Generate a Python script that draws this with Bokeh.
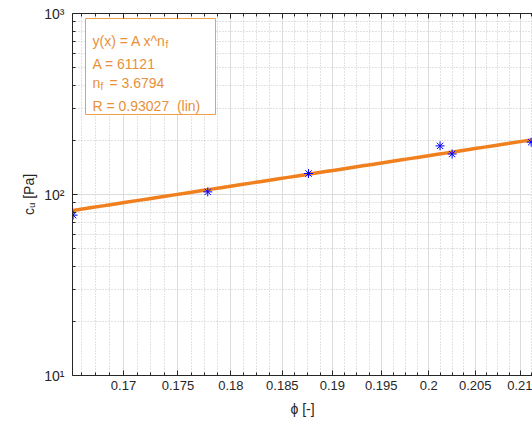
import numpy as np
from bokeh.plotting import figure
from bokeh.models import (Range1d, FixedTicker, CustomJSTickFormatter, LogAxis,
                          ColumnDataSource)
from bokeh.core.properties import value
from bokeh.embed import file_html
from bokeh.resources import INLINE

# ---- data ----
phi = [0.1655, 0.1778, 0.1876, 0.2012, 0.2025, 0.2112]
cu = [76.9, 103.4, 130.6, 185.6, 167.4, 194.5]

# fitted power law y = A x^n_f
A_fit = 61121
n_fit = 3.6794
R_fit = 0.93027

x_ticks = [0.17, 0.175, 0.18, 0.185, 0.19, 0.195, 0.2, 0.205, 0.21]
y_ticks = [10, 100, 1000]

# ---- layout ----
X0, X1 = 0.16545, 0.21135
Y0, Y1 = 10, 1000
FL, FT, FW, FH = 72, 13, 460, 362
W, H = 532, 425

FONT = "Liberation Sans"
DARK = "#262626"
ORANGE_LINE = "#F0801E"
ORANGE_TXT = "#E8903A"
ORANGE_BOX = "#F0A04B"


def xd(px):
    return X0 * (X1 / X0) ** ((px - FL) / FW)


def yd(py):
    return Y0 * (Y1 / Y0) ** (1 - (py - FT) / FH)


p = figure(frame_width=FW, frame_height=FH,
           x_axis_type="log", y_axis_type="log",
           x_range=Range1d(X0, X1), y_range=Range1d(Y0, Y1),
           output_backend="svg", toolbar_location=None,
           min_border_left=FL, min_border_right=0,
           min_border_top=FT, min_border_bottom=H - FT - FH)
p.outline_line_color = None
p.background_fill_color = "white"
p.border_fill_color = "white"

x_minor = [round(v, 5) for v in np.arange(0.165, 0.2125, 0.00125)
           if all(abs(v - t) > 1e-6 for t in x_ticks)]
y_minor = [m * d for d in (10, 100) for m in range(2, 10)]

xt = FixedTicker(ticks=x_ticks, minor_ticks=x_minor)
yt = FixedTicker(ticks=y_ticks, minor_ticks=y_minor)
p.xaxis.ticker = xt
p.yaxis.ticker = yt
p.xaxis.formatter = CustomJSTickFormatter(
    code="return parseFloat(tick.toFixed(4)).toString();")
p.yaxis.formatter = CustomJSTickFormatter(
    code="const s={0:'\u2070',1:'\u00b9',2:'\u00b2',3:'\u00b3'};"
         "return '10' + s[Math.round(Math.log10(tick))];")

for ax in (p.xaxis[0], p.yaxis[0]):
    ax.axis_line_color = DARK
    ax.major_tick_line_color = DARK
    ax.minor_tick_line_color = DARK
    ax.major_tick_in = 5
    ax.major_tick_out = 0
    ax.minor_tick_in = 3
    ax.minor_tick_out = 0
    ax.major_label_text_font = FONT
    ax.major_label_text_font_size = "13px"
    ax.major_label_text_color = DARK
    ax.axis_label_text_font = FONT
    ax.axis_label_text_font_size = "14px"
    ax.axis_label_text_font_style = "normal"
    ax.axis_label_text_color = DARK

p.yaxis.major_label_text_font_size = "14px"
p.xaxis.major_label_standoff = 5
p.xaxis.axis_label = "\u03d5 [-]"
p.xaxis.axis_label_standoff = 8
p.yaxis.major_label_standoff = 8
p.yaxis.axis_label = "c\u1d64 [Pa]"
p.yaxis.axis_label_standoff = 4

top = LogAxis(ticker=FixedTicker(ticks=x_ticks, minor_ticks=x_minor),
              formatter=CustomJSTickFormatter(code="return '';"),
              major_label_text_font_size="0px", major_label_standoff=0,
              axis_line_color=DARK, major_tick_line_color=DARK,
              minor_tick_line_color=DARK, major_tick_in=5, major_tick_out=0,
              minor_tick_in=3, minor_tick_out=0)
p.add_layout(top, "above")

for g in (p.xgrid[0], p.ygrid[0]):
    g.grid_line_color = "#dcdcdc"
    g.grid_line_width = 1
    g.minor_grid_line_color = "#c4c4c4"
    g.minor_grid_line_dash = "1 2"
    g.minor_grid_line_width = 1

# fit line
fx = np.geomspace(min(phi), max(phi), 50)
fy = A_fit * fx ** n_fit
p.line(fx, fy, line_color=ORANGE_LINE, line_width=3.5)

# data
p.scatter(phi, cu, marker="asterisk", size=9, line_color="#0000FF",
          line_width=1)

# fit annotation box
p.quad(left=[xd(85)], right=[xd(215)], top=[yd(18)], bottom=[yd(114)],
       fill_color="white", line_color=ORANGE_BOX, line_width=1)

tx = xd(92)
txt = ColumnDataSource(dict(
    x=[tx, tx, tx, tx, tx, tx],
    y=[yd(40), yd(63), yd(82), yd(82), yd(105), yd(44)],
    t=["y(x) = A x^n", f"A = {A_fit}", "n", f"= {n_fit}",
       f"R = {R_fit} \u00a0(lin)", "f"],
    dx=[0, 0, 0, 17, 0, 73],
    fs=["14px", "14px", "14px", "14px", "14px", "10px"],
))
p.text(x="x", y="y", text="t", x_offset="dx", source=txt,
       text_font=value(FONT), text_font_size="fs", text_color=ORANGE_TXT,
       text_baseline="alphabetic", text_align="left")
p.text(x=[tx], y=[yd(86)], text=["f"], x_offset=8,
       text_font=value(FONT), text_font_size="10px", text_color=ORANGE_TXT,
       text_baseline="alphabetic", text_align="left")

open("out.html", "w").write(file_html(p, INLINE))
